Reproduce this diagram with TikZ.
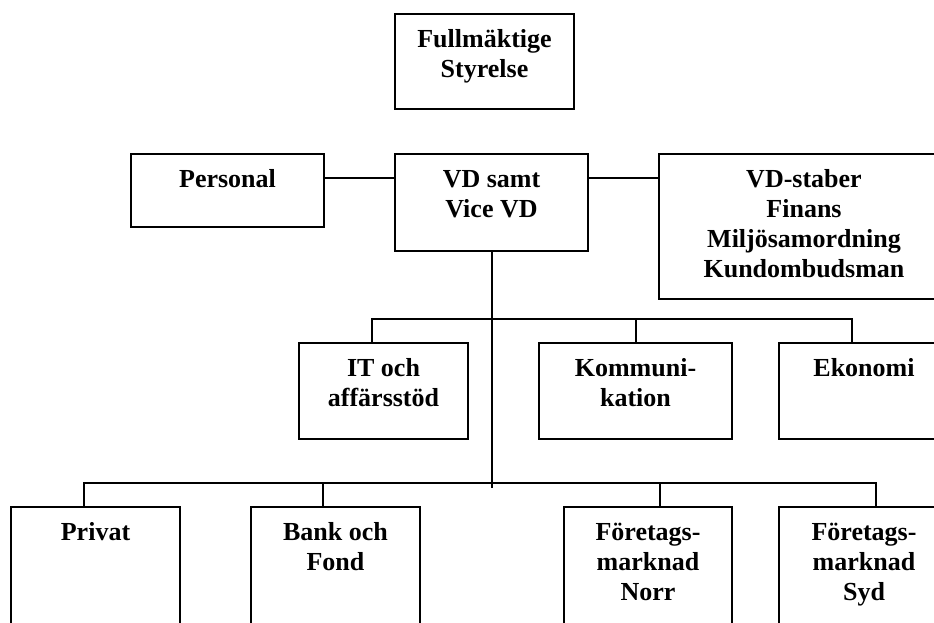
\documentclass[tikz,border=0pt]{standalone}
\usepackage{fontspec}
\setmainfont{Liberation Serif}

% one organisational unit: frame plus its top-aligned caption
\newcommand{\orgunit}[6]{%
  \node[orgbox, anchor=north west, minimum width=#4pt, minimum height=#5pt] (#1) at (#2,#3) {};
  \node[orgtext] (#1-text) at ([yshift=-13pt]#1.north) {\strut #6};
}

\begin{document}
\begin{tikzpicture}[x=1pt, y=-1pt,
  orgbox/.style={draw, line width=2pt, inner sep=0pt},
  orgtext/.style={anchor=north, inner sep=0pt, align=center,
                  font=\bfseries\fontsize{26}{30}\selectfont},
  link/.style={draw, line width=2pt}]

\useasboundingbox (0,0) rectangle (934,622);
\clip (0,0) rectangle (934,622);

% board and management
\orgunit{board}{394}{13}{179}{95}{Fullmäktige\\Styrelse}
\orgunit{personal}{130}{153}{193}{73}{Personal}
\orgunit{ceo}{394}{153}{193}{97}{VD samt\\Vice VD}
\orgunit{staff}{658}{153}{290}{145}{VD-staber\\Finans\\Miljösamordning\\Kundombudsman}

% support functions
\orgunit{it}{298}{342}{169}{96}{IT och\\affärsstöd}
\orgunit{comm}{538}{342}{193}{96}{Kommuni-\\kation}
\orgunit{econ}{778}{342}{170}{96}{Ekonomi}

% business areas
\orgunit{private}{10}{506}{169}{140}{Privat}
\orgunit{bank}{250}{506}{169}{140}{Bank och\\Fond}
\orgunit{north}{563}{506}{168}{140}{Företags-\\marknad\\Norr}
\orgunit{south}{778}{506}{170}{140}{Företags-\\marknad\\Syd}

% bus levels
\coordinate (staffline) at (0,178);
\coordinate (bus1) at (0,319);
\coordinate (bus2) at (0,483);
\coordinate (trunkend) at (0,488);

% staff connections
\path[link] (personal.east |- staffline) -- (ceo.west |- staffline);
\path[link] (ceo.east |- staffline) -- (staff.west |- staffline);

% trunk from management down
\path[link] (ceo.south) -- (ceo.south |- trunkend);

% support bus
\path[link] ([xshift=-12pt]it.north) |- ([xshift=-12pt]econ.north |- bus1) -- ([xshift=-12pt]econ.north);
\path[link] (comm.north) -- (comm.north |- bus1);

% business bus
\path[link] ([xshift=-11.5pt]private.north) |- ([xshift=12pt]south.north |- bus2) -- ([xshift=12pt]south.north);
\path[link] ([xshift=-12.5pt]bank.north) -- ([xshift=-12.5pt]bank.north |- bus2);
\path[link] ([xshift=12pt]north.north) -- ([xshift=12pt]north.north |- bus2);

\end{tikzpicture}
\end{document}
